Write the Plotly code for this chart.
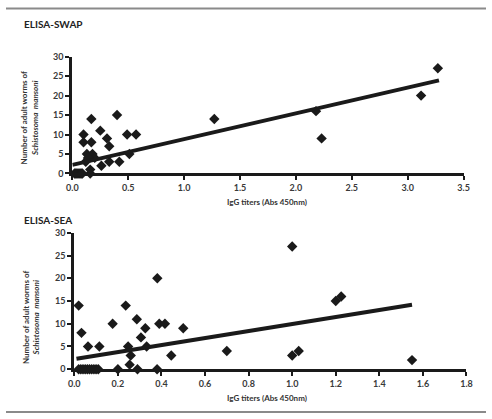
import plotly.graph_objects as go
import numpy as np

# ---- ELISA-SWAP data ----
swap_x = [0.02, 0.03, 0.04, 0.05, 0.06, 0.07, 0.08, 0.09, 0.16,
          0.10, 0.10, 0.17, 0.17, 0.25, 0.31, 0.33, 0.40, 0.49, 0.57,
          0.42, 0.33, 0.26, 0.51, 0.13, 0.18, 0.20, 0.12, 0.14, 0.16,
          1.27, 2.18, 2.23, 3.12, 3.27]
swap_y = [0, 0, 0, 0, 0, 0, 0, 0, 0,
          10, 8, 14, 8, 11, 9, 7, 15, 10, 10,
          3, 3, 2, 5, 5, 5, 4, 3, 4, 1,
          14, 16, 9, 20, 27]
swap_trend_x = [0.0, 3.28]
swap_trend_y = [2.2, 23.9]

# ---- ELISA-SEA data ----
sea_x = [0.02, 0.03, 0.04, 0.05, 0.06, 0.07, 0.08, 0.09, 0.10, 0.11, 0.20, 0.29, 0.38,
         0.02, 0.033, 0.063, 0.115, 0.176, 0.236, 0.247, 0.259, 0.254, 0.287, 0.306,
         0.326, 0.332, 0.381, 0.39, 0.416, 0.445, 0.50, 0.70,
         1.00, 1.20, 1.225, 1.00, 1.03, 1.55]
sea_y = [0, 0, 0, 0, 0, 0, 0, 0, 0, 0, 0, 0, 0,
         14, 8, 5, 5, 10, 14, 5, 3, 1, 11, 7,
         9, 5, 20, 10, 10, 3, 9, 4,
         27, 15, 16, 3, 4, 2]
sea_trend_x = [0.01, 1.55]
sea_trend_y = [2.3, 14.2]

swap_xticks = [0.0, 0.5, 1.0, 1.5, 2.0, 2.5, 3.0, 3.5]
sea_xticks = [0.0, 0.2, 0.4, 0.6, 0.8, 1.0, 1.2, 1.4, 1.6, 1.8]
yticks = [0, 5, 10, 15, 20, 25, 30]

W, H = 492, 419
FONT = "Lato"
INK = "#1a1a1a"

def px(x):
    return x / W

def py(y):
    return 1 - y / H

fig = go.Figure()
marker = dict(symbol="diamond", size=8, color=INK)

fig.add_trace(go.Scatter(x=swap_x, y=swap_y, mode="markers", marker=marker,
                         xaxis="x", yaxis="y", cliponaxis=False, showlegend=False))
fig.add_trace(go.Scatter(x=swap_trend_x, y=swap_trend_y, mode="lines",
                         line=dict(color=INK, width=4), xaxis="x", yaxis="y",
                         cliponaxis=False, showlegend=False))
fig.add_trace(go.Scatter(x=sea_x, y=sea_y, mode="markers", marker=marker,
                         xaxis="x2", yaxis="y2", cliponaxis=False, showlegend=False))
fig.add_trace(go.Scatter(x=sea_trend_x, y=sea_trend_y, mode="lines",
                         line=dict(color=INK, width=4), xaxis="x2", yaxis="y2",
                         cliponaxis=False, showlegend=False))

tickfont = dict(family=FONT, size=9, color="#3a3a3a", weight="bold")
axis_common = dict(showgrid=False, zeroline=False, showline=True, linecolor=INK,
                   linewidth=3, ticks="outside", ticklen=4, tickwidth=2,
                   tickcolor=INK, tickfont=tickfont)

fig.update_layout(
    width=W, height=H,
    margin=dict(l=0, r=0, t=0, b=0),
    paper_bgcolor="white", plot_bgcolor="white",
    xaxis=dict(domain=[px(68), px(469)], range=[0, 3.5], tickvals=swap_xticks,
               ticktext=[f"{v:.1f}" for v in swap_xticks], anchor="y", **axis_common),
    yaxis=dict(domain=[py(172), py(52)], range=[0, 30], tickvals=yticks,
               anchor="x", **axis_common),
    xaxis2=dict(domain=[px(70), px(472)], range=[0, 1.8], tickvals=sea_xticks,
                ticktext=[f"{v:.1f}" for v in sea_xticks], anchor="y2", **axis_common),
    yaxis2=dict(domain=[py(373), py(233)], range=[0, 30], tickvals=yticks,
                anchor="x2", **axis_common),
)

ann = []
ann.append(dict(text="<b>ELISA-SWAP</b>", x=px(16), y=py(18), xref="paper", yref="paper",
                xanchor="left", yanchor="middle", showarrow=False,
                font=dict(family=FONT, size=10, color="#222222")))
ann.append(dict(text="<b>ELISA-SEA</b>", x=px(16), y=py(220), xref="paper", yref="paper",
                xanchor="left", yanchor="middle", showarrow=False,
                font=dict(family=FONT, size=10, color="#222222")))
for ycen in (201, 403):
    ann.append(dict(text="<b>IgG titers (Abs 450nm)</b>", x=px(268), y=py(ycen),
                    xref="paper", yref="paper", xanchor="center", yanchor="middle",
                    showarrow=False, font=dict(family=FONT, size=8, color="#333333")))
for (xc, yc) in ((24, 115), (25, 320)):
    ann.append(dict(text="<b>Number of adult worms of</b><br><b><i>Schistosoma  mansoni</i></b>",
                    x=px(xc), y=py(yc), xref="paper", yref="paper", xanchor="center",
                    yanchor="middle", textangle=-90, showarrow=False,
                    font=dict(family=FONT, size=8, color="#333333")))
fig.update_layout(annotations=ann)

fig.update_layout(shapes=[
    dict(type="line", xref="paper", yref="paper", x0=0, x1=1, y0=py(2.5), y1=py(2.5),
         line=dict(color="#8a8a8a", width=2)),
    dict(type="line", xref="paper", yref="paper", x0=0, x1=1, y0=py(417), y1=py(417),
         line=dict(color="#8a8a8a", width=2)),
])

fig.write_html("out.html")
